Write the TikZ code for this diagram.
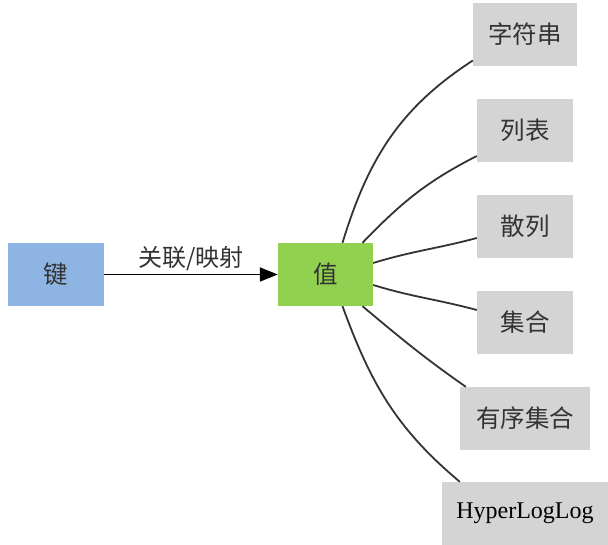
\documentclass[tikz,border=0pt]{standalone}
\usepackage{fontspec}
\setmainfont{Liberation Serif}
\newfontfamily\cjk{Noto Sans CJK SC}
\usetikzlibrary{arrows.meta}
\definecolor{keyblue}{HTML}{8DB4E2}
\definecolor{valgreen}{HTML}{92D050}
\definecolor{typegray}{HTML}{D4D4D4}
\definecolor{txt}{HTML}{333333}
\definecolor{edgecol}{HTML}{333333}
\tikzset{
  box/.style={rectangle, inner sep=0pt, minimum height=63pt, text=txt, font=\cjk\fontsize{24.5}{28}\selectfont},
  keybox/.style={box, fill=keyblue, minimum width=96pt},
  valbox/.style={box, fill=valgreen, minimum width=95pt},
  typebox/.style={box, fill=typegray, minimum width=96pt},
  link/.style={draw=edgecol, line width=1.8pt},
  assoc/.style={draw=black, line width=1.8pt, -{Triangle[length=18pt,width=14pt]}},
}
\begin{document}
\begin{tikzpicture}[x=1pt,y=-1pt]
\useasboundingbox[fill=white] (0,0) rectangle (608,545);
\node[keybox] (k) at (56,274.5) {键};
\node[valbox] (v) at (325.5,274.5) {值};
\node[typebox, minimum width=104pt] (s1) at (525,34.5) {字符串};
\node[typebox] (s2) at (525,130.5) {列表};
\node[typebox] (s3) at (525,226.5) {散列};
\node[typebox] (s4) at (525,322.5) {集合};
\node[typebox, minimum width=130pt] (s5) at (525,418.5) {有序集合};
\node[typebox, minimum width=166pt, font=\fontsize{24}{28}\selectfont, text=black] (s6) at (525,513.5) {HyperLogLog};
\draw[assoc] (k.east) -- node[midway, yshift=16pt, font=\cjk\fontsize{24}{28}\selectfont, text=txt] (lab) {关联/映射} (v.west);
\draw[link] ([xshift=17pt]v.north) to[out=73, in=213] ([yshift=-26pt]s1.west);
\draw[link] ([xshift=37pt]v.north) to[out=46, in=207] ([yshift=-25.5pt]s2.west);
\draw[link] ([yshift=11.5pt]v.east) to[out=17, in=195] ([yshift=-11.5pt]s3.west);
\draw[link] ([yshift=-10.5pt]v.east) to[out=-17, in=165] ([yshift=12.5pt]s4.west);
\draw[link] ([xshift=37pt]v.south) to[out=-40, in=145] ([xshift=6pt]s5.north west);
\draw[link] ([xshift=17pt]v.south) to[out=-70, in=140] ([xshift=18pt]s6.north west);
\end{tikzpicture}
\end{document}
